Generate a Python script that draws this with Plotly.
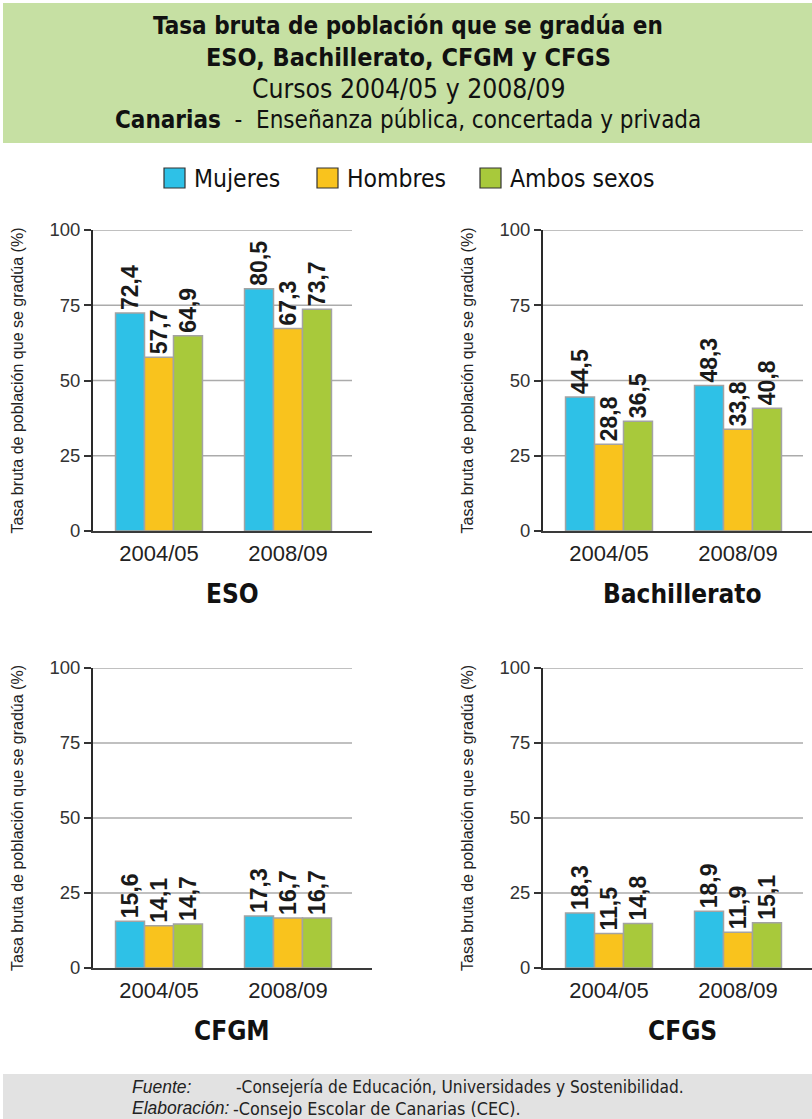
import plotly.graph_objects as go

W, H = 812, 1119

cursos = ["2004/05", "2008/09"]
series = ["Mujeres", "Hombres", "Ambos sexos"]
colores = ["#2ec1e7", "#f9c31d", "#a8c93b"]
paneles = ["ESO", "Bachillerato", "CFGM", "CFGS"]

eso_mujeres = [72.4, 80.5]
eso_hombres = [57.7, 67.3]
eso_ambos = [64.9, 73.7]
bach_mujeres = [44.5, 48.3]
bach_hombres = [28.8, 33.8]
bach_ambos = [36.5, 40.8]
cfgm_mujeres = [15.6, 17.3]
cfgm_hombres = [14.1, 16.7]
cfgm_ambos = [14.7, 16.7]
cfgs_mujeres = [18.3, 18.9]
cfgs_hombres = [11.5, 11.9]
cfgs_ambos = [14.8, 15.1]

yticks = [0, 25, 50, 75, 100]
ytitle = "Tasa bruta de población que se gradúa (%)"

datos = [
    [eso_mujeres, eso_hombres, eso_ambos],
    [bach_mujeres, bach_hombres, bach_ambos],
    [cfgm_mujeres, cfgm_hombres, cfgm_ambos],
    [cfgs_mujeres, cfgs_hombres, cfgs_ambos],
]

def px_x(p):
    return p / W

def px_y(p):
    return (H - p) / H

# panel geometry (pixels)
geo = [
    dict(x0=93, x1=372, ytop=230, ybot=531, c0=159),
    dict(x0=543, x1=812, ytop=230, ybot=531, c0=609),
    dict(x0=93, x1=372, ytop=668, ybot=968, c0=159),
    dict(x0=543, x1=812, ytop=668, ybot=968, c0=609),
]
grid_end = [352, 803, 352, 803]
step = 129.0

fig = go.Figure()
layout = dict(
    width=W, height=H, margin=dict(l=0, r=0, t=0, b=0, pad=0, autoexpand=False),
    paper_bgcolor="white", plot_bgcolor="white",
    barmode="group", bargap=0.326, bargroupgap=0.0,
    showlegend=False,
    font=dict(family="Liberation Sans, Arial, sans-serif", color="#222"),
)
shapes = []
annotations = []

COND = "DejaVu Sans Condensed, Liberation Sans Narrow, Arial Narrow, sans-serif"

for i, (pan, g) in enumerate(zip(paneles, geo)):
    n = "" if i == 0 else str(i + 1)
    xa = "x" + n
    ya = "y" + n
    for s, col, vals in zip(series, colores, datos[i]):
        fig.add_trace(go.Bar(
            x=cursos, y=vals, name=s, xaxis=xa, yaxis=ya,
            marker=dict(color=col, line=dict(color="#a3a3a3", width=1.5)),
            text=[f"{v:.1f}".replace(".", ",") for v in vals],
            textposition="outside", textangle=-90, constraintext="none",
            textfont=dict(family="Liberation Sans, Arial, sans-serif", size=23,
                          color="#1a1a1a", weight="bold"),
            cliponaxis=False, hoverinfo="skip",
        ))
    lo = (g["x0"] - g["c0"]) / step
    hi = (g["x1"] - g["c0"]) / step
    layout["xaxis" + n] = dict(
        domain=[px_x(g["x0"]), px_x(g["x1"])], anchor=ya, type="category",
        range=[lo, hi], showline=True, linecolor="#3a3a3a", linewidth=2,
        ticks="outside", ticklen=2, tickcolor="rgba(0,0,0,0)",
        tickfont=dict(size=22, color="#222"), showgrid=False, zeroline=False,
        fixedrange=True, automargin=False,
    )
    layout["yaxis" + n] = dict(
        domain=[px_y(g["ybot"]), px_y(g["ytop"])], anchor=xa,
        range=[0, 100], tickvals=yticks, showline=True, linecolor="#2a2a2a",
        linewidth=2, ticks="outside", ticklen=7, tickcolor="#333", tickwidth=1.5,
        tickfont=dict(size=18.5, color="#333"), showgrid=False, zeroline=False,
        fixedrange=True, automargin=False,
    )
    frac = (grid_end[i] - g["x0"]) / (g["x1"] - g["x0"])
    for t in yticks[1:]:
        shapes.append(dict(type="line", xref=xa + " domain", yref=ya,
                           x0=0, x1=frac, y0=t, y1=t,
                           line=dict(color="#ababab", width=1.5), layer="below"))
    # y-axis title
    annotations.append(dict(
        text=ytitle, textangle=-90, xref="paper", yref="paper",
        x=px_x(g["x0"] - 76), y=px_y((g["ytop"] + g["ybot"]) / 2),
        showarrow=False, font=dict(size=16, color="#222"),
        xanchor="center", yanchor="middle",
    ))
    # panel title
    annotations.append(dict(
        text="<b>" + pan + "</b>", xref="paper", yref="paper",
        x=px_x(g["c0"] + 73), y=px_y(g["ybot"] + 63),
        showarrow=False, font=dict(size=26, color="#111", family=COND),
        xanchor="center", yanchor="middle",
    ))

# header box
shapes.append(dict(type="rect", xref="paper", yref="paper",
                   x0=px_x(3), x1=1, y0=px_y(143), y1=px_y(3),
                   fillcolor="#c6e0a3", line=dict(width=0), layer="below"))
# footer box
shapes.append(dict(type="rect", xref="paper", yref="paper",
                   x0=px_x(3), x1=1, y0=0, y1=px_y(1074),
                   fillcolor="#e2e2e2", line=dict(width=0), layer="below"))

header = [
    ("<b>Tasa bruta de población que se gradúa en</b>", 24, 26),
    ("<b>ESO, Bachillerato, CFGM y CFGS</b>", 25, 58),
    ("Cursos 2004/05 y 2008/09", 26.3, 89.5),
    ("<b>Canarias</b>  -  Enseñanza pública, concertada y privada", 24, 120),
]
for txt, sz, yc in header:
    annotations.append(dict(text=txt, xref="paper", yref="paper",
                            x=px_x(408), y=px_y(yc), showarrow=False,
                            font=dict(size=sz, color="#111", family=COND),
                            xanchor="center", yanchor="middle"))

# legend
leg_x = [164, 317, 480]
for s, col, lx in zip(series, colores, leg_x):
    shapes.append(dict(type="rect", xref="paper", yref="paper",
                       x0=px_x(lx), x1=px_x(lx + 21), y0=px_y(188), y1=px_y(168),
                       fillcolor=col, line=dict(color="#333", width=1.2)))
    annotations.append(dict(text=s, xref="paper", yref="paper",
                            x=px_x(lx + 28), y=px_y(179), showarrow=False,
                            font=dict(size=24.5, color="#111", family=COND),
                            xanchor="left", yanchor="middle"))

# footer text
foot = [
    ("<i>Fuente:</i>", 130, 1087, "Liberation Sans, Arial, sans-serif", 17.5),
    ("-Consejería de Educación, Universidades y Sostenibilidad.", 234, 1087, COND, 17.2),
    ("<i>Elaboración:</i>", 130, 1108, "Liberation Sans, Arial, sans-serif", 17.5),
    ("-Consejo Escolar de Canarias (CEC).", 231, 1108, COND, 17.8),
]
for txt, xx, yy, fam, sz in foot:
    annotations.append(dict(text=txt, xref="paper", yref="paper",
                            x=px_x(xx), y=px_y(yy), showarrow=False,
                            font=dict(size=sz, color="#222", family=fam),
                            xanchor="left", yanchor="middle"))

layout["shapes"] = shapes
layout["annotations"] = annotations
fig.update_layout(**layout)
fig.write_html(
    "out.html",
    config={"displayModeBar": False},
    post_script="document.body.style.margin='0';document.body.style.padding='0';"
                "document.documentElement.style.overflow='hidden';",
)
